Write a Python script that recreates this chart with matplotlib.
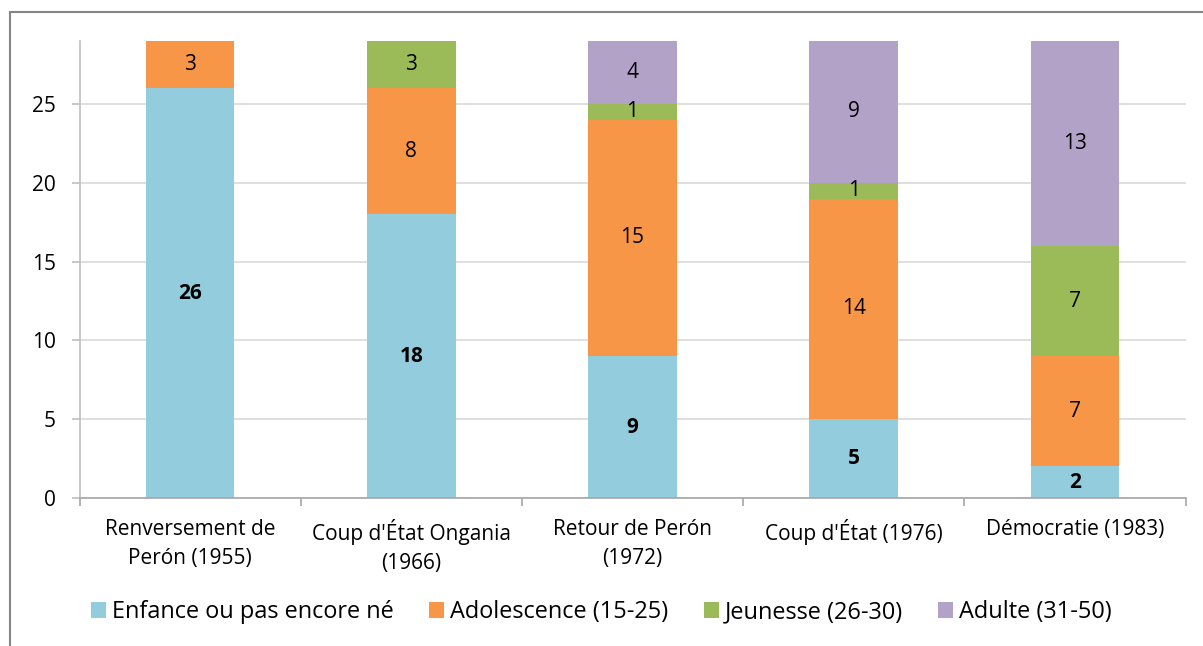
import matplotlib.pyplot as plt
import numpy as np
from matplotlib.patches import Rectangle

categories = ["Renversement de\nPerón (1955)", "Coup d'État Ongania\n(1966)", "Retour de Perón\n(1972)",
              "Coup d'État (1976)", "Démocratie (1983)"]
series_names = ["Enfance ou pas encore né", "Adolescence (15-25)", "Jeunesse (26-30)", "Adulte (31-50)"]
enfance = [26, 18, 9, 5, 2]
adolescence = [3, 8, 15, 14, 7]
jeunesse = [0, 3, 1, 1, 7]
adulte = [0, 0, 4, 9, 13]
colors = ["#93CDDD", "#F79646", "#9BBB59", "#B3A2C7"]

plt.rcParams['font.family'] = ['Open Sans', 'DejaVu Sans']

fig = plt.figure(figsize=(12.03, 6.46), dpi=100)
ax = fig.add_axes([79.5 / 1203, 1 - 498 / 646, (1185.5 - 79.5) / 1203, (498 - 41) / 646])

# outer chart frame (runs past the right and bottom image edges)
fig.patches.append(Rectangle((10 / 1203, -0.1), 1.2, 1 - 12 / 646 + 0.1, transform=fig.transFigure,
                             fill=False, edgecolor="#868686", linewidth=1.5))

x = np.arange(len(categories))
bottom = np.zeros(len(categories))
for i, (name, vals) in enumerate(zip(series_names, [enfance, adolescence, jeunesse, adulte])):
    vals = np.array(vals, dtype=float)
    ax.bar(x, vals, 0.4, bottom=bottom, color=colors[i], label=name, zorder=2)
    for xi, v, b in zip(x, vals, bottom):
        if v > 0:
            ax.text(xi, b + v / 2, f"{int(v)}", ha="center", va="center", fontsize=15,
                    fontweight="bold" if i == 0 else "normal", color="black", zorder=3)
    bottom += vals

ax.set_xlim(-0.5, len(categories) - 0.5)
ax.set_ylim(0, 29)
ax.set_yticks(range(0, 30, 5))
ax.yaxis.grid(True, color="#D9D9D9", linewidth=1.2, zorder=0)
ax.set_axisbelow(True)
for s in ["top", "right"]:
    ax.spines[s].set_visible(False)
ax.spines["left"].set_color("#BFBFBF")
ax.spines["bottom"].set_color("#A6A6A6")
ax.spines["left"].set_linewidth(1.2)
ax.spines["bottom"].set_linewidth(1.2)

ax.set_xticks(x)
ax.set_xticklabels(categories, fontsize=15, linespacing=1.5)
ax.tick_params(axis="x", length=0, pad=15)
ax.set_xticks(np.arange(-0.5, len(categories)), minor=True)
ax.tick_params(axis="x", which="minor", length=6, color="#A6A6A6", width=1.2)
ax.tick_params(axis="y", length=6, color="#BFBFBF", width=1.2, labelsize=15, pad=11)

fig.legend(loc="center", bbox_to_anchor=(0.5, 1 - 612 / 646), ncol=4, frameon=False,
           fontsize=16.9, handlelength=0.65, handleheight=0.65, handletextpad=0.25, columnspacing=1.5)

fig.savefig("out.png", dpi=100)
